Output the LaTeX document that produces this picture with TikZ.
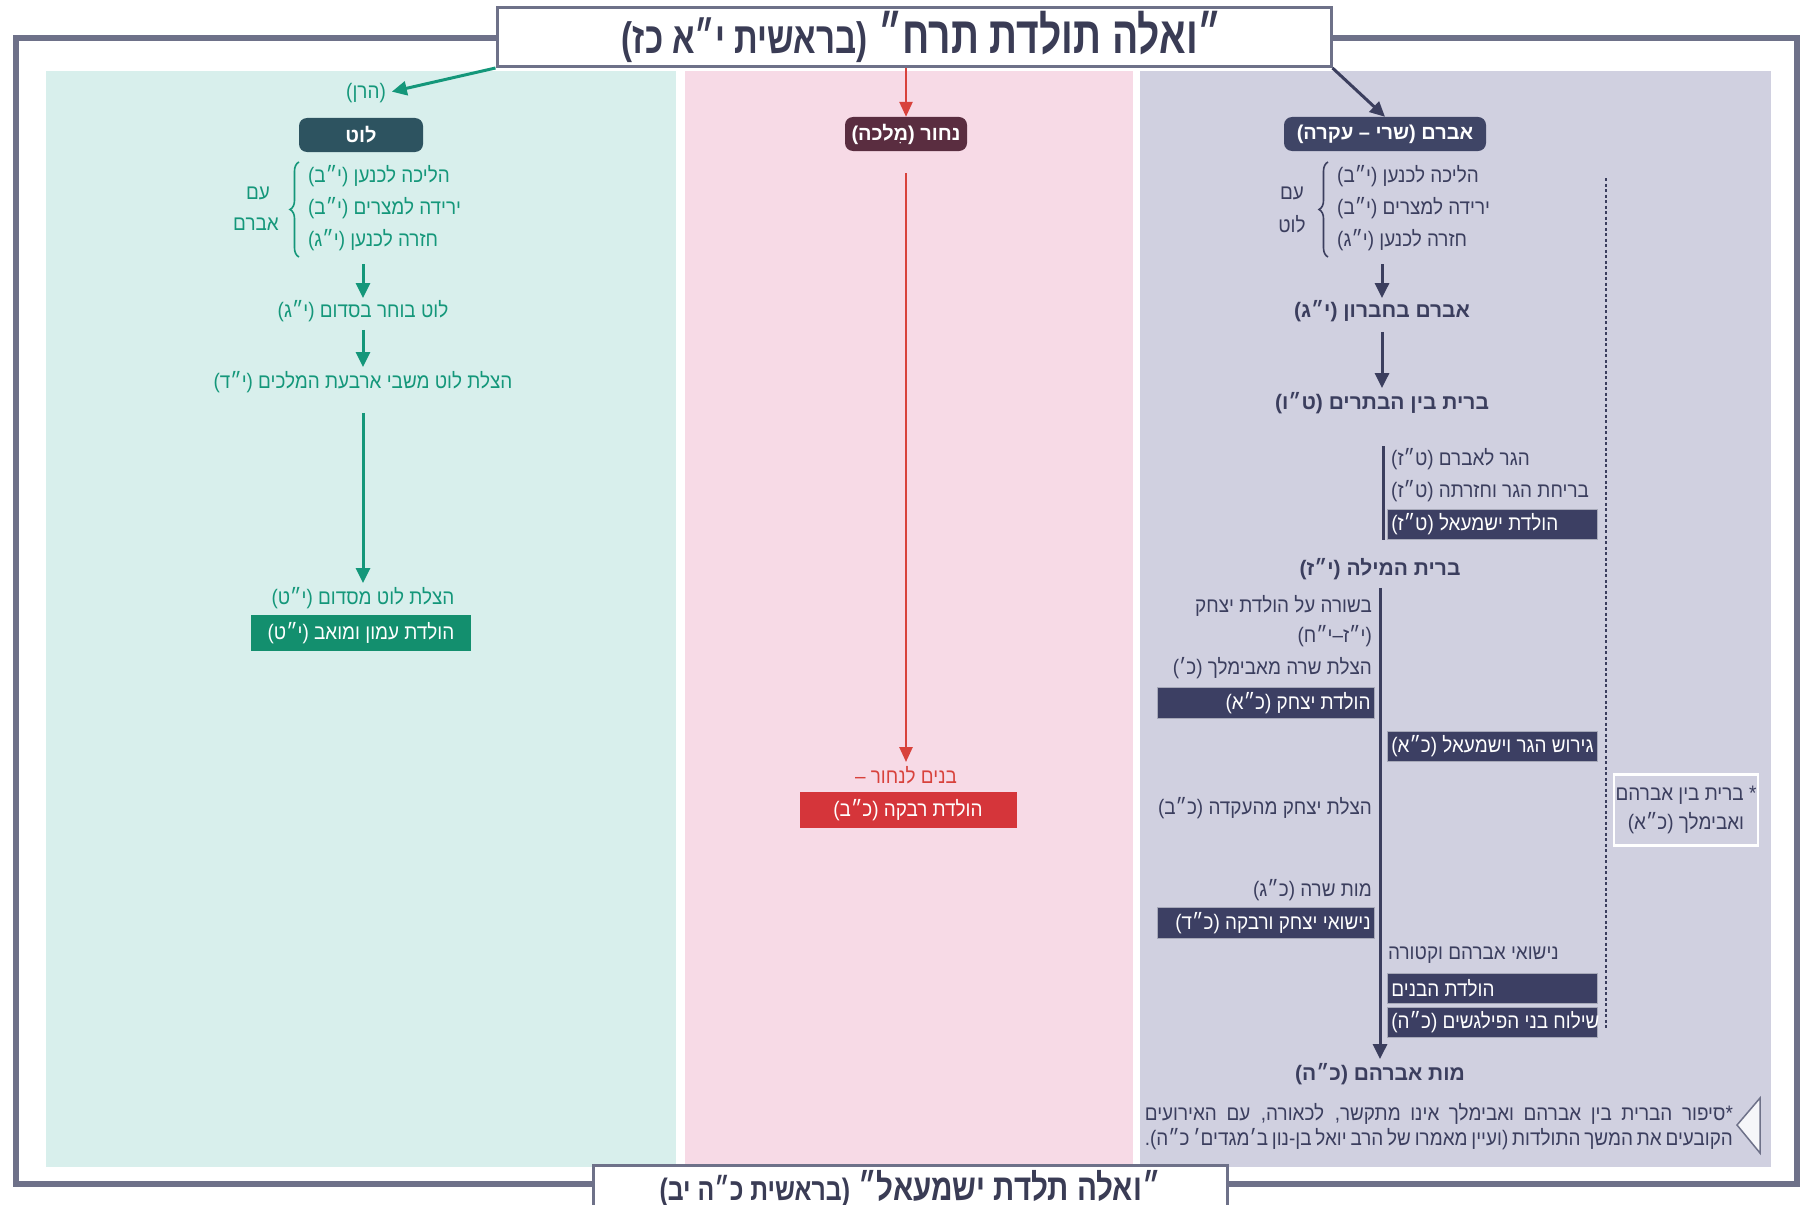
\documentclass[tikz,border=0pt]{standalone}
\usepackage{fontspec}
\setmainfont[Script=Hebrew, FakeStretch=0.9]{Liberation Sans}
\newfontfamily\plainfam[Script=Hebrew]{Liberation Sans}
\TeXXeTstate=1
\usetikzlibrary{arrows.meta,decorations.pathreplacing}
\newcommand{\heb}[1]{\beginR #1\endR}
\newcommand{\bodyfont}{\fontsize{21}{25}\selectfont}
\newcommand{\headfont}{\plainfam\fontsize{20}{24}\selectfont\bfseries}
\newcommand{\boldfont}{\plainfam\fontsize{21}{25}\selectfont\bfseries}
\newcommand{\footfont}{\fontsize{21}{24}\selectfont}
\newcommand{\rtext}[1]{\makebox[202pt][l]{\heb{#1}}}
\newcommand{\ltext}[1]{\makebox[209pt][r]{\heb{#1}}}
\definecolor{tealbg}{HTML}{D8EFEC}
\definecolor{pinkbg}{HTML}{F7DAE6}
\definecolor{lavbg}{HTML}{D0D0E0}
\definecolor{tealtx}{HTML}{14977A}
\definecolor{greenbox}{HTML}{138F6E}
\definecolor{lotbox}{HTML}{2D5360}
\definecolor{redtx}{HTML}{D8423C}
\definecolor{redbox}{HTML}{D5353A}
\definecolor{nahorbox}{HTML}{5A2D40}
\definecolor{navytx}{HTML}{3B3E5E}
\definecolor{navybox}{HTML}{3C3F63}
\definecolor{avrambox}{HTML}{3F4566}
\definecolor{framec}{HTML}{6E7189}
\definecolor{titletx}{HTML}{3A3C55}
\begin{document}
\begin{tikzpicture}[x=1pt,y=-1pt,
  txt/.style={inner sep=0pt, font=\bodyfont},
  ttxt/.style={txt, text=tealtx},
  ntxt/.style={txt, text=navytx},
  rtxt/.style={txt, text=redtx},
  btxt/.style={inner sep=0pt, font=\boldfont, text=navytx},
  headbox/.style={rounded corners=8pt, text=white, font=\headfont, inner sep=0pt, minimum height=34pt},
  lboxst/.style={fill=navybox, draw=white!55!navybox, line width=0.8pt, text=white, font=\bodyfont, inner xsep=4pt, inner ysep=0pt, minimum height=31pt, anchor=east},
  rboxst/.style={fill=navybox, draw=white!55!navybox, line width=0.8pt, text=white, font=\bodyfont, inner xsep=4pt, inner ysep=0pt, minimum height=30pt, anchor=west},
  tarr/.style={tealtx, line width=3pt, -{Triangle[length=15pt,width=14pt]}},
  rarr/.style={redtx, line width=2.5pt, -{Triangle[length=15pt,width=13pt]}},
  narr/.style={navytx, line width=3pt, -{Triangle[length=15pt,width=14pt]}},
  bracest/.style={line width=1.6pt, decorate, decoration={brace,amplitude=9pt}},
  framest/.style={framec, line width=6pt},
  titlest/.style={draw=framec, line width=3pt, fill=white, inner sep=0pt, text=titletx}
]
\useasboundingbox (0,0) rectangle (1803,1204);
\fill[white] (0,0) rectangle (1803,1204);
% panels
\fill[tealbg] (46,71) rectangle (676,1167);
\fill[pinkbg] (685,71) rectangle (1133,1167);
\fill[lavbg] (1140,71) rectangle (1771,1167);
% frame
\draw[framest] (500,38) -- (16,38) -- (16,1184) -- (600,1184);
\draw[framest] (1320,38) -- (1797,38) -- (1797,1184) -- (1220,1184);
% titles
\node[titlest, minimum width=834pt, minimum height=59pt] (title) at (914,37)
  {\hspace*{16pt}\scalebox{0.75}[1]{\plainfam\fontsize{52}{52}\selectfont\bfseries\heb{״ואלה תולדת תרח״ {\fontsize{44}{44}\selectfont(בראשית י״א כז)}}}};
\node[titlest, minimum width=634pt, minimum height=48pt] (btitle) at (910,1189)
  {\raisebox{4pt}{\scalebox{0.8}[1]{\plainfam\fontsize{37}{37}\selectfont\bfseries\heb{״ואלה תלדת ישמעאל״ {\fontsize{31}{31}\selectfont(בראשית כ״ה יב)}}}}};

% ===== Lot column =====
\node[ttxt] (haran) at (366,93) {\heb{(הרן)}};
\draw[tarr, shorten >=6pt] (title.south west) -- (haran.east);
\node[headbox, fill=lotbox, minimum width=124pt] (lot) at (361,135) {\heb{לוט}};
\node[ttxt, anchor=west] (l1) at (308,176) {\heb{הליכה לכנען (י״ב)}};
\node[ttxt, anchor=west] (l2) at (308,208) {\heb{ירידה למצרים (י״ב)}};
\node[ttxt, anchor=west] (l3) at (308,240) {\heb{חזרה לכנען (י״ג)}};
\draw[bracest, tealtx] (299,257) -- (299,162);
\node[ttxt] (im1) at (258,193) {\heb{עם}};
\node[ttxt] (im2) at (256,224) {\heb{אברם}};
\coordinate (la) at (363,264);
\node[ttxt] (choose) at (363,311) {\heb{לוט בוחר בסדום (י״ג)}};
\draw[tarr, shorten >=2pt] (la) -- (choose.north);
\node[ttxt] (rescue) at (363,382) {\heb{הצלת לוט משבי ארבעת המלכים (י״ד)}};
\draw[tarr, shorten <=8pt, shorten >=4pt] (choose.south) -- (rescue.north);
\node[ttxt] (sodom) at (363,598) {\heb{הצלת לוט מסדום (י״ט)}};
\draw[tarr, shorten <=20pt, shorten >=4pt] (rescue.south) -- (sodom.north);
\node[fill=greenbox, text=white, font=\bodyfont, minimum width=220pt, minimum height=36pt, inner sep=0pt] (ammon) at (361,633) {\heb{הולדת עמון ומואב (י״ט)}};

% ===== Nahor column =====
\node[headbox, fill=nahorbox, minimum width=122pt] (nahor) at (906,134) {\heb{נחור (מִלכה)}};
\draw[rarr] (title.south -| nahor.north) -- (nahor.north);
\node[rtxt] (banim) at (906,775) {\heb{בנים לנחור –}};
\draw[rarr, shorten <=22pt, shorten >=4pt] (nahor.south) -- (banim.north);
\node[fill=redbox, text=white, font=\bodyfont, minimum width=217pt, minimum height=36pt, inner sep=0pt] (rivka) at (908,810) {\heb{הולדת רבקה (כ״ב)}};

% ===== Avram column =====
\node[headbox, fill=avrambox, minimum width=202pt] (avram) at (1385,134) {\heb{אברם (שרי – עקרה)}};
\draw[narr] (title.south east) -- (avram.north);
\node[ntxt, anchor=west] (v1) at (1337,176) {\heb{הליכה לכנען (י״ב)}};
\node[ntxt, anchor=west] (v2) at (1337,208) {\heb{ירידה למצרים (י״ב)}};
\node[ntxt, anchor=west] (v3) at (1337,240) {\heb{חזרה לכנען (י״ג)}};
\draw[bracest, navytx] (1328,257) -- (1328,162);
\node[ntxt] (w1) at (1292,193) {\heb{עם}};
\node[ntxt] (w2) at (1292,224) {\heb{לוט}};
\coordinate (va) at (1382,264);
\node[btxt] (hevron) at (1382,311) {\heb{אברם בחברון (י״ג)}};
\draw[narr, shorten >=2pt] (va) -- (hevron.north);
\node[btxt] (btarim) at (1382,403) {\heb{ברית בין הבתרים (ט״ו)}};
\draw[narr, shorten <=10pt, shorten >=4pt] (hevron.south) -- (btarim.north);
\draw[navytx, line width=3pt] (1383,446) -- (1383,540);
\node[ntxt, anchor=west] (hagar1) at (1391,459) {\heb{הגר לאברם (ט״ז)}};
\node[ntxt, anchor=west] (hagar2) at (1391,491) {\heb{בריחת הגר וחזרתה (ט״ז)}};
\node[rboxst] (ishmael) at (1387,524) {\rtext{הולדת ישמעאל (ט״ז)}};
\node[btxt] (mila) at (1380,569) {\heb{ברית המילה (י״ז)}};
\node[btxt] (death) at (1380,1074) {\heb{מות אברהם (כ״ה)}};
\draw[narr, shorten <=8pt, shorten >=4pt] (mila.south) -- (death.north);
% left of the line
\node[ntxt, anchor=east] (bsora) at (1372,606) {\heb{בשורה על הולדת יצחק}};
\node[ntxt, anchor=east] (bsora2) at (1372,636) {\heb{(י״ז–י״ח)}};
\node[ntxt, anchor=east] (sara) at (1372,668) {\heb{הצלת שרה מאבימלך (כ׳)}};
\node[lboxst] (yitzhak) at (1375,703) {\ltext{הולדת יצחק (כ״א)}};
\node[ntxt, anchor=east] (akeda) at (1372,808) {\heb{הצלת יצחק מהעקדה (כ״ב)}};
\node[ntxt, anchor=east] (motsara) at (1372,890) {\heb{מות שרה (כ״ג)}};
\node[lboxst] (nisuei) at (1375,923) {\ltext{נישואי יצחק ורבקה (כ״ד)}};
% right of the line
\node[rboxst] (gerush) at (1387,746) {\rtext{גירוש הגר וישמעאל (כ״א)}};
\node[ntxt, anchor=west] (ketura) at (1388,955) {\heb{נישואי אברהם וקטורה}};
\node[rboxst] (banimA) at (1387,988) {\rtext{הולדת הבנים}};
\node[rboxst] (pilagshim) at (1387,1022) {\rtext{שילוח בני הפילגשים (כ״ה)}};
% dotted line and side note
\draw[navytx, line width=1.5pt, dash pattern=on 3pt off 2.5pt] (1606,178) -- (1606,1030);
\node[draw=white, line width=2.5pt, minimum width=144pt, minimum height=71pt, inner sep=0pt, align=center, font=\bodyfont, text=navytx] (avimelech) at (1686,810) {\heb{* ברית בין אברהם}\\[4pt]\heb{ואבימלך (כ״א)}};
% footnote
\draw[framec, line width=1.5pt, fill=white!80!lavbg] (1760,1098) -- (1737,1125) -- (1760,1153) -- cycle;
\node[txt, font=\footfont, text=navytx, anchor=east] (fn1) at (1733,1114) {\hbox to 588pt{\heb{*סיפור הברית בין אברהם ואבימלך אינו מתקשר, לכאורה, עם האירועים}}};
\node[txt, font=\footfont, text=navytx, anchor=east] (fn2) at (1733,1139) {\hbox to 588pt{\heb{הקובעים את המשך התולדות (ועיין מאמרו של הרב יואל בן-נון ב׳מגדים׳ כ״ה).}}};
\end{tikzpicture}
\end{document}
